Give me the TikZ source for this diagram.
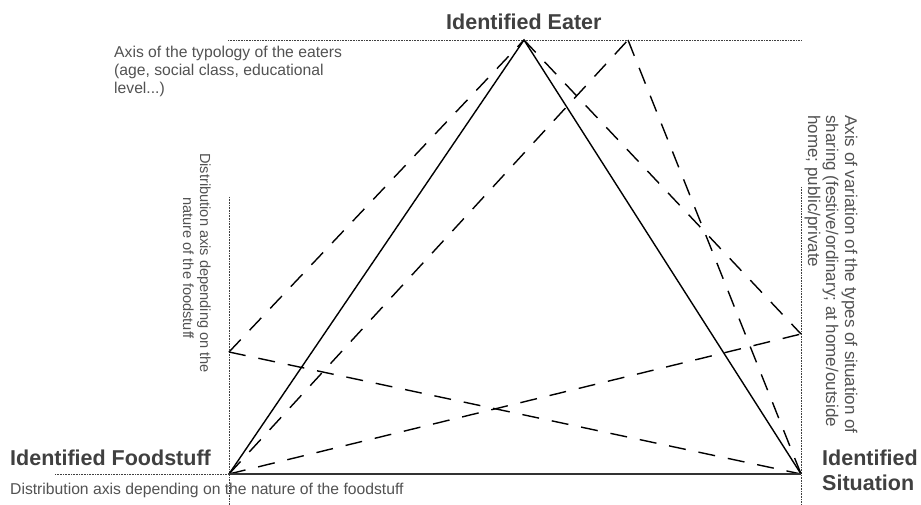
\documentclass[tikz,border=0pt]{standalone}
\usepackage{fontspec}
\setmainfont{Liberation Sans}
\begin{document}
\begin{tikzpicture}[x=1pt,y=-1pt,
  solidline/.style={line width=1.4pt, black},
  dashline/.style={line width=1.4pt, black, dash pattern=on 17pt off 13pt},
  dotline/.style={line width=0.9pt, black!75, dash pattern=on 0.8pt off 0.8pt},
  boldlbl/.style={font=\fontsize{21.5}{24}\selectfont\bfseries, text=black!75, inner sep=0pt},
  lbl/.style={font=\fontsize{15.7}{18}\selectfont, text=black!68, inner sep=0pt},
  lblleft/.style={font=\fontsize{14.6}{17}\selectfont, text=black!68, inner sep=0pt, rotate=-90, anchor=base west},
  lblright/.style={font=\fontsize{17}{19}\selectfont, text=black!68, inner sep=0pt, rotate=-90, anchor=base west}]
\useasboundingbox (0,0) rectangle (921,505);
% key points
\coordinate (E) at (524,40);
\coordinate (F) at (229,474);
\coordinate (S) at (801,474);
\coordinate (E2) at (628,40);
\coordinate (L) at (229,352);
\coordinate (R) at (801,334);
% dotted axes
\coordinate (t1) at (228,40);  \coordinate (t2) at (802,40);
\coordinate (l1) at (229,197); \coordinate (l2) at (229,505);
\coordinate (b1) at (55,474);
\coordinate (r1) at (801,187); \coordinate (r2) at (801,505);
\draw[dotline] (t1) -- (t2);
\draw[dotline] (l1) -- (l2);
\draw[dotline] (b1) -- (F);
\draw[dotline] (r1) -- (r2);
% dashed lines
\draw[dashline] (L) -- (E);
\draw[dashline] (F) -- (E2);
\draw[dashline] (E2) -- (S);
\draw[dashline] (E) -- (R);
\draw[dashline] (L) -- (S);
\draw[dashline] (F) -- (R);
% triangle
\draw[solidline] (F) -- (E) -- (S);
\draw[line width=1.8pt, black!80] (F) -- (S);
% labels
\node[boldlbl, anchor=base west] (eater) at (446,30) {Identified Eater};
\node[boldlbl, anchor=base west] (food) at (10,465) {Identified Foodstuff};
\node[boldlbl, anchor=base west] (sit1) at (822,465) {Identified};
\node[boldlbl, anchor=base west] (sit2) at (822,490) {Situation};
\node[lbl, anchor=base west] (typ1) at (114,58) {Axis of the typology of the eaters};
\node[lbl, anchor=base west] (typ2) at (114,76) {(age, social class, educational};
\node[lbl, anchor=base west] (typ3) at (114,94) {level...)};
\node[lbl, anchor=base west] (dist) at (10,494) {Distribution axis depending on the nature of the foodstuff};
\node[lblleft] (dl1) at (200,153) {Distribution axis depending on the};
\node[lblleft] (dl2) at (183,197) {nature of the foodstuff};
\node[lblright] (ax1) at (845,115) {Axis of variation of the types of situation of};
\node[lblright] (ax2) at (826,115) {sharing (festive/ordinary; at home/outside};
\node[lblright] (ax3) at (808,115) {home; public/private};
\end{tikzpicture}
\end{document}
